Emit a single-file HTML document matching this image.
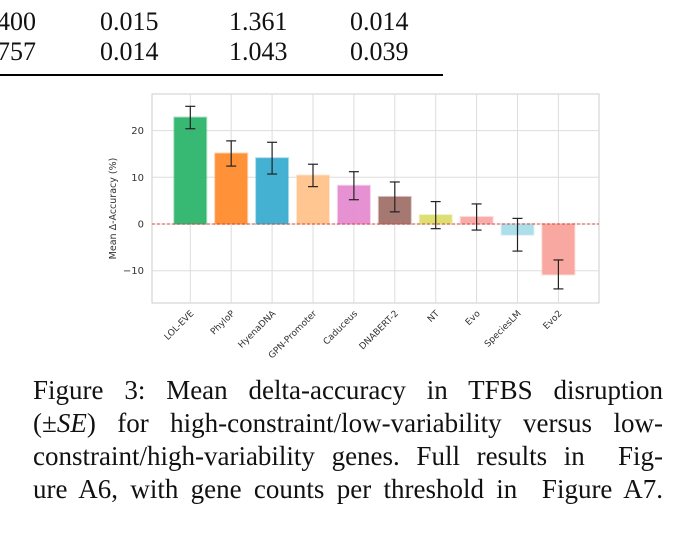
<!DOCTYPE html>
<html><head><meta charset="utf-8">
<style>
body{margin:0;width:694px;height:535px;background:#fff;overflow:hidden;position:relative;font-family:"Liberation Serif",serif;color:#111}
.t{position:absolute;font-size:26px;line-height:26px}
.cap{position:absolute;left:33px;width:630px;font-size:27px;line-height:28px;text-align:justify;text-align-last:justify;white-space:nowrap}
</style></head><body>
<div>
<div class="t" style="left:-3px;top:9px">400</div><div class="t" style="left:100px;top:9px">0.015</div><div class="t" style="left:229px;top:9px">1.361</div><div class="t" style="left:350px;top:9px">0.014</div>
<div class="t" style="left:-3px;top:39px">757</div><div class="t" style="left:100px;top:39px">0.014</div><div class="t" style="left:229px;top:39px">1.043</div><div class="t" style="left:350px;top:39px">0.039</div>
<div style="position:absolute;left:0;top:74px;width:443px;height:2px;background:#000"></div>
</div>
<svg id="chart" width="694" height="370" style="position:absolute;left:0;top:0" font-family="'DejaVu Sans','Liberation Sans',sans-serif"></svg>
<div>
<div class="cap" style="top:376px">Figure 3: Mean delta-accuracy in TFBS disruption</div>
<div class="cap" style="top:409px">(±<i>SE</i>) for high-constraint/low-variability versus low-</div>
<div class="cap" style="top:442px">constraint/high-variability genes. Full results in&nbsp; Fig-</div>
<div class="cap" style="top:475px">ure A6, with gene counts per threshold in&nbsp; Figure A7.</div>
</div>
<script>
const categories=["LOL-EVE","PhyloP","HyenaDNA","GPN-Promoter","Caduceus","DNABERT-2","NT","Evo","SpeciesLM","Evo2"];
const values=[22.8,15.1,14.1,10.4,8.2,5.8,1.9,1.5,-2.3,-10.8];
const errors=[2.4,2.7,3.4,2.4,3.0,3.2,2.9,2.8,3.5,3.1];
const colors=["#2cb46b","#ff8c2e","#3aadd0","#ffc38c","#e58bd0","#a0716a","#dcdd6c","#f9a9a6","#a8dde9","#f9a39c"];
const yTicks=[-10,0,10,20];
const L=152,R=599,T=94,B=303;
const y=v=>224-v*4.67;
const x=i=>190.3+i*40.9;
const svg=document.getElementById('chart');
const NS='http://www.w3.org/2000/svg';
function mk(tag,a){const e=document.createElementNS(NS,tag);for(const k in a)e.setAttribute(k,a[k]);svg.appendChild(e);return e;}
let bg=mk('rect',{x:L,y:T,width:R-L,height:B-T,fill:'#fff',stroke:'#ccc','stroke-width':1});


yTicks.forEach(t=>{
 let g=mk('line',{x1:L,x2:R,y1:y(t),y2:y(t),stroke:'#ddd','stroke-width':1});
 
 
 let tx=mk('text',{x:L-8,y:y(t)+3.5,'text-anchor':'end','font-size':10,fill:'#333'});
 tx.textContent=t<0?'\u2212'+(-t):t;
 
 
});
categories.forEach((c,i)=>{
 let g=mk('line',{x1:x(i),x2:x(i),y1:T,y2:B,stroke:'#ddd','stroke-width':1});
 
 
});
categories.forEach((c,i)=>{
 const v=values[i],w=32;
 let r=mk('rect',{x:x(i)-w/2,y:Math.min(y(v),y(0)),width:w,height:Math.abs(y(v)-y(0)),fill:colors[i],'fill-opacity':0.95,stroke:colors[i],'stroke-opacity':0.4,'stroke-width':2});
 
 
});
let z=mk('line',{x1:L,x2:R,y1:y(0),y2:y(0),stroke:'#d9453f','stroke-width':1,'stroke-dasharray':'3,2'});


categories.forEach((c,i)=>{
 const v=values[i],e=errors[i],cx=x(i);
 let g=document.createElementNS(NS,'g');svg.appendChild(g);
 
 
 [[cx,cx,y(v-e),y(v+e)],[cx-5,cx+5,y(v+e),y(v+e)],[cx-5,cx+5,y(v-e),y(v-e)]].forEach(p=>{
  const l=document.createElementNS(NS,'line');
  l.setAttribute('x1',p[0]);l.setAttribute('x2',p[1]);l.setAttribute('y1',p[2]);l.setAttribute('y2',p[3]);
  l.setAttribute('stroke','#222');l.setAttribute('stroke-width','1.2');g.appendChild(l);
 });
 let tx=mk('text',{x:cx+4,y:B+11,'text-anchor':'end','font-size':9,fill:'#333',transform:`rotate(-45 ${cx+4} ${B+11})`});
 tx.textContent=c;
 
 
});
let yl=mk('text',{x:0,y:0,'text-anchor':'middle','font-size':9.5,fill:'#333',transform:`translate(116 ${(T+B)/2+10}) rotate(-90)`});
yl.textContent='Mean \u0394-Accuracy (%)';


</script>
</body></html>
